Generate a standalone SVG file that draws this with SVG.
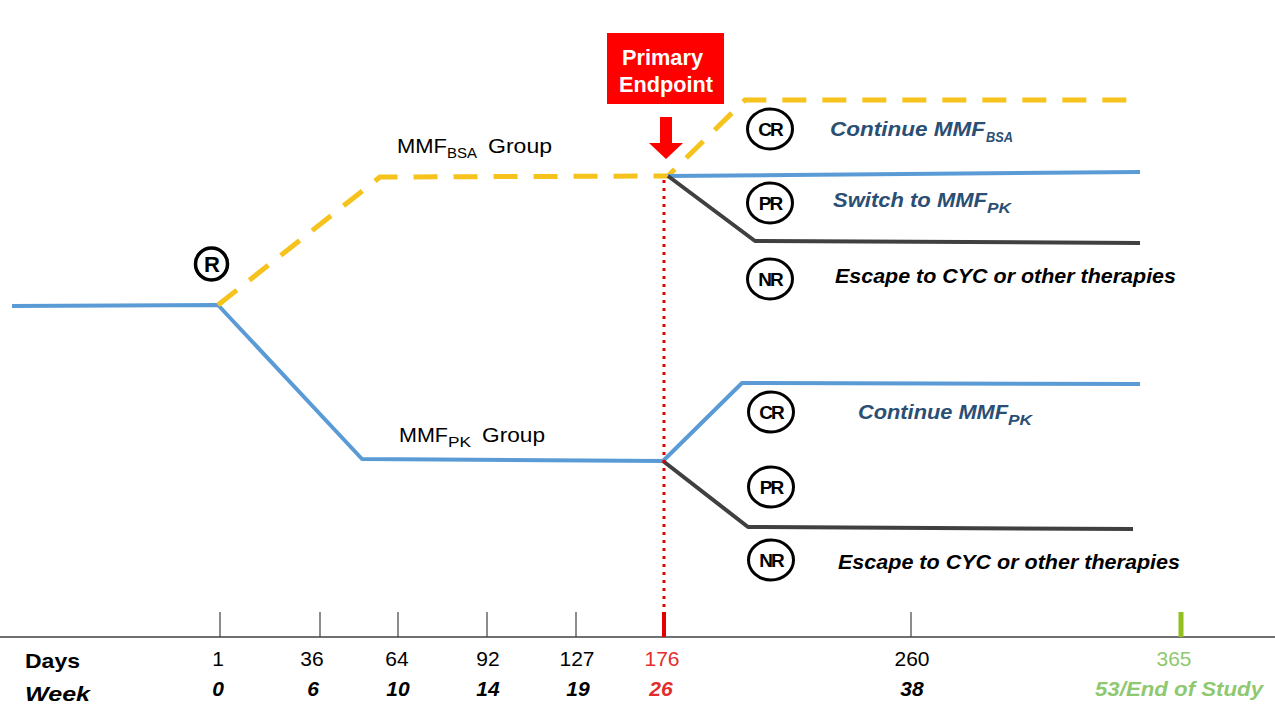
<svg xmlns="http://www.w3.org/2000/svg" width="1275" height="715" viewBox="0 0 1275 715">
<style>
.blue{fill:none;stroke:#5b9bd5;stroke-width:4;stroke-linejoin:round}
.dark{fill:none;stroke:#404040;stroke-width:4;stroke-linejoin:round}
.yel{fill:none;stroke:#f6c21c;stroke-width:5;stroke-dasharray:24 16}
.circ{fill:#fff;stroke:#000;stroke-width:3}
.ct{font-family:"Liberation Sans",Arial,sans-serif;font-weight:bold;font-size:19px;text-anchor:middle;letter-spacing:-2px}
.lab{font-family:"Liberation Sans",Arial,sans-serif;font-size:21px}
.sub{font-family:"Liberation Sans",Arial,sans-serif;font-size:14px}
.act{font-family:"Liberation Sans",Arial,sans-serif;font-size:21px;font-weight:bold;font-style:italic}
.asub{font-family:"Liberation Sans",Arial,sans-serif;font-size:14px;font-weight:bold;font-style:italic}
.num{font-family:"Liberation Sans",Arial,sans-serif;font-size:21px;text-anchor:middle}
.wk{font-family:"Liberation Sans",Arial,sans-serif;font-size:21px;font-weight:bold;font-style:italic;text-anchor:middle}
.tick{stroke:#404040;stroke-width:1.2}
.navy{fill:#2b4f74}
</style>
<rect width="1275" height="715" fill="#fff"/>
<g id="connectors">
<polyline class="blue" points="12,306 218,305 362,459 663,461"/>
<polyline class="yel" points="218,305 380,177 668,176 745,100 1140,100"/>
<polyline class="blue" points="668,176 1140,172"/>
<polyline class="dark" points="668,176 755,241 1140,243"/>
<polyline class="blue" points="663,461 742,383 1140,384"/>
<polyline class="dark" points="663,461 748,527 1133,529"/>
<line x1="664" y1="180" x2="664" y2="612" stroke="#e00000" stroke-width="3" stroke-dasharray="3 5"/>
</g>
<g id="endpoint">
<rect x="607" y="33" width="117" height="71" fill="#ff0000"/>
<text x="622" y="65" textLength="81" lengthAdjust="spacingAndGlyphs" font-family="Liberation Sans,Arial,sans-serif" font-weight="bold" font-size="21.5" fill="#fff">Primary</text>
<text x="619" y="92" textLength="94" lengthAdjust="spacingAndGlyphs" font-family="Liberation Sans,Arial,sans-serif" font-weight="bold" font-size="21.5" fill="#fff">Endpoint</text>
<polygon points="660,117 672,117 672,143 683,143 666,159 649,143 660,143" fill="#ff0000"/>
</g>
<g id="randomization">
<circle cx="211.5" cy="264" r="16" fill="#fff" stroke="#000" stroke-width="3.5"/>
<text x="212" y="272" font-family="Liberation Sans,Arial,sans-serif" font-weight="bold" font-size="22" text-anchor="middle">R</text>
</g>
<g id="mmf-bsa-label">
<text x="397" y="153" class="lab" textLength="50" lengthAdjust="spacingAndGlyphs">MMF</text>
<text x="447" y="158" class="sub" textLength="30" lengthAdjust="spacingAndGlyphs">BSA</text>
<text x="488" y="153" class="lab" textLength="64" lengthAdjust="spacingAndGlyphs">Group</text>
</g>
<g id="mmf-pk-label">
<text x="399" y="442" class="lab" textLength="49" lengthAdjust="spacingAndGlyphs">MMF</text>
<text x="448" y="447" class="sub" textLength="23" lengthAdjust="spacingAndGlyphs">PK</text>
<text x="482" y="442" class="lab" textLength="63" lengthAdjust="spacingAndGlyphs">Group</text>
</g>
<g id="upper-cr">
<ellipse class="circ" cx="770" cy="129" rx="22.5" ry="20"/>
<text x="770" y="136" class="ct">CR</text>
<text x="830" y="136" class="act navy" textLength="155" lengthAdjust="spacingAndGlyphs">Continue MMF</text>
<text x="986" y="142" class="asub navy" textLength="27" lengthAdjust="spacingAndGlyphs">BSA</text>
</g>
<g id="upper-pr">
<ellipse class="circ" cx="770" cy="203" rx="22.5" ry="20"/>
<text x="770" y="210" class="ct">PR</text>
<text x="833" y="207" class="act navy" textLength="154" lengthAdjust="spacingAndGlyphs">Switch to MMF</text>
<text x="987" y="213" class="asub navy" textLength="24" lengthAdjust="spacingAndGlyphs">PK</text>
</g>
<g id="upper-nr">
<ellipse class="circ" cx="770" cy="279" rx="22.5" ry="20"/>
<text x="770" y="286" class="ct">NR</text>
<text x="835" y="283" class="act" fill="#000" textLength="341" lengthAdjust="spacingAndGlyphs">Escape to CYC or other therapies</text>
</g>
<g id="lower-cr">
<ellipse class="circ" cx="771" cy="412" rx="22.5" ry="20"/>
<text x="771" y="419" class="ct">CR</text>
<text x="858" y="419" class="act navy" textLength="150" lengthAdjust="spacingAndGlyphs">Continue MMF</text>
<text x="1008" y="425" class="asub navy" textLength="24" lengthAdjust="spacingAndGlyphs">PK</text>
</g>
<g id="lower-pr">
<ellipse class="circ" cx="771" cy="487" rx="22.5" ry="20"/>
<text x="771" y="494" class="ct">PR</text>
</g>
<g id="lower-nr">
<ellipse class="circ" cx="771" cy="560" rx="22.5" ry="20"/>
<text x="771" y="567" class="ct">NR</text>
<text x="838" y="569" class="act" fill="#000" textLength="342" lengthAdjust="spacingAndGlyphs">Escape to CYC or other therapies</text>
</g>
<g id="axis">
<line x1="0" y1="637" x2="1275" y2="637" stroke="#404040" stroke-width="1.5"/>
<line class="tick" x1="220" y1="612" x2="220" y2="637"/>
<line class="tick" x1="320" y1="612" x2="320" y2="637"/>
<line class="tick" x1="398" y1="612" x2="398" y2="637"/>
<line class="tick" x1="487" y1="612" x2="487" y2="637"/>
<line class="tick" x1="576" y1="612" x2="576" y2="637"/>
<line class="tick" x1="911" y1="612" x2="911" y2="637"/>
<line x1="664" y1="612" x2="664" y2="637" stroke="#e00000" stroke-width="4"/>
<line x1="1181" y1="612" x2="1181" y2="637" stroke="#92c01e" stroke-width="5"/>
<text x="25" y="668" class="lab" font-weight="bold" textLength="55" lengthAdjust="spacingAndGlyphs">Days</text>
<text x="25" y="701" class="act" textLength="65" lengthAdjust="spacingAndGlyphs">Week</text>
<text x="218" y="666" class="num">1</text>
<text x="312" y="666" class="num">36</text>
<text x="397" y="666" class="num">64</text>
<text x="488" y="666" class="num">92</text>
<text x="577" y="666" class="num">127</text>
<text x="662" y="666" class="num" fill="#e32d2d">176</text>
<text x="912" y="666" class="num">260</text>
<text x="1174" y="666" class="num" fill="#8fc96f">365</text>
<text x="218" y="696" class="wk">0</text>
<text x="313" y="696" class="wk">6</text>
<text x="398" y="696" class="wk">10</text>
<text x="488" y="696" class="wk">14</text>
<text x="578" y="696" class="wk">19</text>
<text x="661" y="696" class="wk" fill="#e32d2d">26</text>
<text x="912" y="696" class="wk">38</text>
<text x="1179" y="696" class="wk" fill="#8fc96f" textLength="168" lengthAdjust="spacingAndGlyphs">53/End of Study</text>
</g>
</svg>
